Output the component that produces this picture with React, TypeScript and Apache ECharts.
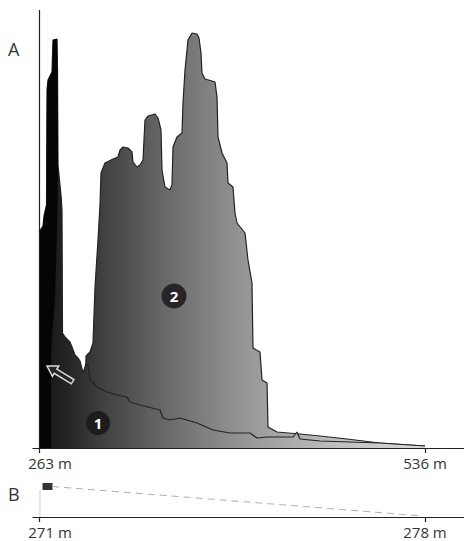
import React, { useEffect, useRef } from "react";
import * as echarts from "echarts";

// Panel A: distance along profile (m) vs. signal (arbitrary units)
const profile2X = [263.0, 294.83, 296.24, 299.07, 301.19, 302.61, 304.73, 306.14, 306.85, 309.68, 315.34, 318.87, 320.29, 322.41, 325.95, 328.77, 329.48, 332.31, 334.43, 336.55, 337.97, 340.09, 345.04, 347.16, 349.28, 349.99, 352.11, 355.65, 357.06, 357.77, 360.6, 364.14, 364.84, 366.26, 368.38, 371.21, 374.75, 376.16, 377.57, 378.28, 380.4, 385.35, 387.48, 388.89, 389.6, 392.43, 395.96, 396.67, 400.21, 401.62, 403.04, 408.69, 410.81, 413.64, 414.35, 419.3, 420.72, 424.27, 424.97, 431.34, 447.59, 461.74, 480.83, 504.17, 536.0];
const profile2Y = [0, 0, 92, 96, 105, 161, 208, 243, 275, 285, 289, 291, 298, 301, 300, 296, 286, 281, 283, 288, 328, 332, 334, 330, 318, 278, 261, 258, 263, 301, 311, 315, 345, 378, 408, 415, 414, 410, 395, 375, 369, 367, 366, 351, 311, 295, 285, 265, 261, 235, 225, 215, 188, 165, 100, 96, 68, 65, 21, 16, 14, 12, 9, 5, 2];

const profile1X = [263.0, 265.83, 266.54, 268.3, 268.66, 269.37, 272.19, 272.9, 275.73, 276.08, 276.44, 278.56, 279.27, 279.62, 281.39, 284.92, 286.34, 288.46, 290.58, 292.0, 294.12, 296.24, 297.66, 299.07, 304.02, 311.09, 318.17, 325.24, 327.36, 334.43, 348.58, 350.7, 355.65, 362.72, 374.75, 386.06, 398.09, 412.23, 417.18, 424.27, 433.46, 442.66, 445.47, 447.59, 461.74, 504.17, 536.0];
const profile1Y = [216, 222, 232, 243, 358, 368, 376, 408, 409, 381, 283, 253, 238, 115, 111, 106, 101, 93, 90, 87, 75, 84, 82, 68, 61, 56, 53, 51, 46, 43, 38, 30, 28, 30, 25, 18, 15, 15, 10, 11, 11, 11, 16, 9, 7, 5, 2];

const spikeX = [263.35, 265.83, 266.54, 268.3, 268.66, 269.37, 272.19, 272.9, 275.73, 276.08, 276.44, 275.73, 274.32, 272.19, 271.49, 271.49];
const spikeY = [216, 222, 232, 243, 358, 368, 376, 408, 409, 381, 283, 218, 148, 113, 98, 0];

const tickA = [263, 536];

// Panel B
const tickB = [271, 278];
const markerB: [number, number] = [271.154, 30.5];
const dashB: [number, number][] = [[271.236, 30.5], [277.964, 1]];
const dropB: [number, number][] = [[271.018, 27], [271.018, 0]];

const zip = (xs: number[], ys: number[]) => xs.map((x, i) => [x, ys[i]]);

const FONT = "'Open Sans', 'Noto Sans', sans-serif";
const TXT = "#333";

export default function App() {
  const ref = useRef<HTMLDivElement>(null);
  useEffect(() => {
    if (!ref.current) return;
    const chart = echarts.init(ref.current, null, { renderer: "svg" });
    const grad = {
      type: "linear",
      x: 39,
      y: 0,
      x2: 425,
      y2: 0,
      global: true,
      colorStops: [
        { offset: 0, color: "#0a0a0a" },
        { offset: 0.04, color: "#1c1c1c" },
        { offset: 0.1, color: "#2c2c2c" },
        { offset: 0.16, color: "#3f3f3f" },
        { offset: 0.34, color: "#6c6c6c" },
        { offset: 0.55, color: "#999999" },
        { offset: 0.75, color: "#bcbcbc" },
        { offset: 1, color: "#dadada" },
      ],
    };
    const axisCommon = (ticks: number[], min: number, max: number, gridIndex: number) => ({
      type: "value",
      gridIndex,
      min,
      max,
      splitLine: { show: false },
      axisLine: { show: true, lineStyle: { color: "#222", width: 1.2 } },
      axisTick: { show: true, customValues: ticks, length: 5, lineStyle: { color: "#222", width: 1.2 } },
      axisLabel: {
        show: true,
        customValues: ticks,
        margin: 7,
        fontSize: 15,
        fontFamily: FONT,
        color: TXT,
        formatter: (v: number) => (v === ticks[0] ? `{l|${v} m}` : `${v} m`),
        rich: { l: { padding: [0, 0, 0, 22], fontSize: 15, fontFamily: FONT, color: TXT } },
      },
    });
    chart.setOption({
      animation: false,
      grid: [
        { left: 33, right: 0, top: 10, bottom: 93 },
        { left: 33, right: 0, top: 478, bottom: 24 },
      ],
      xAxis: [
        axisCommon(tickA, 258.7565, 563.583, 0),
        axisCommon(tickB, 270.8912, 278.7073, 1),
      ],
      yAxis: [
        { type: "value", gridIndex: 0, min: 0, max: 438, show: false },
        { type: "value", gridIndex: 1, min: 0, max: 39, show: false },
      ],
      series: [
        {
          name: "2",
          type: "line",
          z: 2,
          data: zip(profile2X, profile2Y),
          showSymbol: false,
          symbol: "none",
          lineStyle: { color: "#222", width: 1.2 },
          areaStyle: { color: grad, opacity: 1 },
          markLine: {
            silent: true,
            symbol: ["none", "none"],
            label: { show: false },
            lineStyle: { color: "#222", width: 1.2, type: "solid" },
            data: [{ xAxis: 263 }],
          },
        },
        {
          name: "1",
          type: "line",
          z: 3,
          data: zip(profile1X, profile1Y),
          showSymbol: false,
          symbol: "none",
          lineStyle: { color: "#222", width: 1.2 },
          areaStyle: { color: grad, opacity: 1 },
        },
        {
          name: "spike",
          type: "line",
          z: 4,
          data: zip(spikeX, spikeY),
          showSymbol: false,
          symbol: "none",
          lineStyle: { width: 0 },
          areaStyle: { color: "#050505", opacity: 1 },
        },
        {
          name: "dropB",
          type: "line",
          xAxisIndex: 1,
          yAxisIndex: 1,
          data: dropB,
          showSymbol: false,
          symbol: "none",
          lineStyle: { color: "#cfcfcf", width: 1 },
        },
        {
          name: "dashB",
          type: "line",
          xAxisIndex: 1,
          yAxisIndex: 1,
          data: dashB,
          showSymbol: false,
          symbol: "none",
          lineStyle: { color: "#b0b0b0", width: 1, type: [7, 5] },
        },
        {
          name: "markerB",
          type: "scatter",
          xAxisIndex: 1,
          yAxisIndex: 1,
          data: [markerB],
          symbol: "rect",
          symbolSize: [10, 7],
          itemStyle: { color: "#000" },
        },
      ],
      graphic: [
        { type: "text", left: 8, top: 40, style: { text: "A", fontSize: 18, fontFamily: FONT, fill: TXT } },
        { type: "text", left: 8, top: 485, style: { text: "B", fontSize: 18, fontFamily: FONT, fill: TXT } },
        {
          type: "polygon",
          shape: {
            points: [
              [47, 366],
              [58.7, 366.1],
              [56.8, 369.1],
              [73.9, 379.6],
              [71.3, 383.8],
              [54.2, 373.3],
              [52.4, 376.3],
            ],
          },
          style: { fill: "#262626", stroke: "#dcdcdc", lineWidth: 1.5 },
          z: 100,
        },
        { type: "circle", shape: { cx: 174, cy: 296, r: 12.5 }, style: { fill: "#262626" }, z: 100 },
        {
          type: "text",
          x: 174,
          y: 296,
          style: { text: "2", fontSize: 15, fontWeight: "bold", fontFamily: FONT, fill: "#fff", align: "center", verticalAlign: "middle" },
          z: 101,
        },
        { type: "circle", shape: { cx: 98, cy: 423, r: 12 }, style: { fill: "#1c1c1c" }, z: 100 },
        {
          type: "text",
          x: 98,
          y: 423,
          style: { text: "1", fontSize: 15, fontWeight: "bold", fontFamily: FONT, fill: "#fff", align: "center", verticalAlign: "middle" },
          z: 101,
        },
      ],
    });
    return () => chart.dispose();
  }, []);
  return <div ref={ref} style={{ position: "fixed", left: 0, top: 0, width: 464, height: 541, background: "#fff" }} />;
}
